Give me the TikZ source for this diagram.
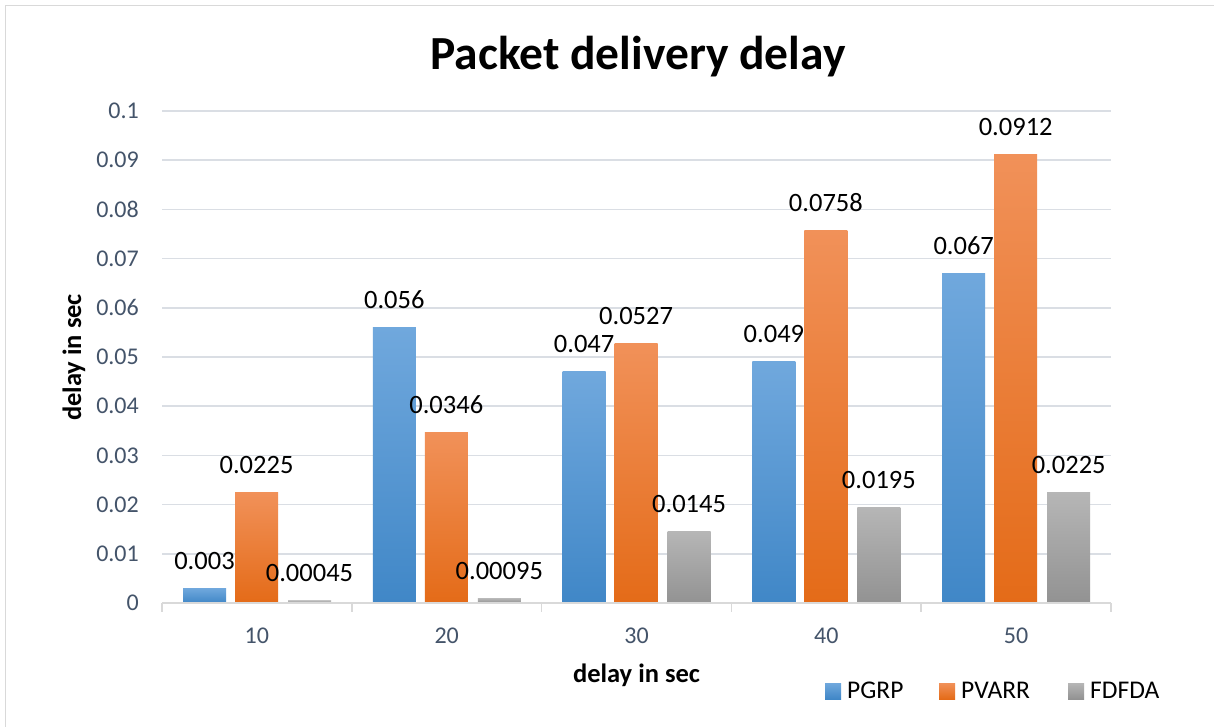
\documentclass[tikz,border=0pt]{standalone}
\usepackage{fontspec}
\setmainfont{Carlito}
\definecolor{gridc}{RGB}{218,222,228}
\definecolor{framec}{RGB}{217,217,217}
\definecolor{tickc}{RGB}{68,84,106}
\definecolor{blueT}{RGB}{112,168,221}
\definecolor{blueB}{RGB}{64,135,199}
\definecolor{orT}{RGB}{241,145,89}
\definecolor{orB}{RGB}{228,107,24}
\definecolor{grT}{RGB}{182,182,182}
\definecolor{grB}{RGB}{146,146,146}
\tikzset{
  bluebar/.style={top color=blueT,bottom color=blueB,draw=none},
  orbar/.style={top color=orT,bottom color=orB,draw=none},
  graybar/.style={top color=grT,bottom color=grB,draw=none},
  gridline/.style={draw=gridc,line width=1.5pt},
  axisline/.style={draw=framec,line width=1.5pt},
  ticklab/.style={font=\fontsize{24}{28}\selectfont,text=tickc,inner sep=0pt},
  datalab/.style={font=\fontsize{26.5}{30}\selectfont,text=black,inner sep=0pt,anchor=base},
  axtitle/.style={font=\bfseries\fontsize{26.5}{30}\selectfont,text=black,inner sep=0pt},
  leglab/.style={font=\fontsize{25.5}{30}\selectfont,text=black,inner sep=0pt,anchor=base west},
}
\begin{document}
\begin{tikzpicture}[x=1pt,y=1pt]
\useasboundingbox (0,0) rectangle (1214,726);
\fill[white] (0,0) rectangle (1214,726);
% frame (runs off right and bottom)
\draw[framec,line width=1.5pt] (5.5,-20) -- (5.5,720.5) -- (1240,720.5);
% title
\node[font=\bfseries\fontsize{47.5}{55}\selectfont,inner sep=0pt,anchor=base] (title) at (638,656) {Packet delivery delay};
% gridlines and y tick labels
\foreach \k/\t in {1/0.01,2/0.02,3/0.03,4/0.04,5/0.05,6/0.06,7/0.07,8/0.08,9/0.09,10/0.1}{
  \pgfmathsetmacro\gy{123+49.2*\k}
  \coordinate (gl\k) at (162,\gy);
  \coordinate (gr\k) at (1111,\gy);
  \draw[gridline] (gl\k) -- (gr\k);
  \node[ticklab,anchor=east] (yt\k) at (139,\gy) {\t};
}
\node[ticklab,anchor=east] (yt0) at (139,123) {0};
% bars
\foreach \i/\a/\b/\c in {0/0.003/0.0225/0.00045,1/0.056/0.0346/0.00095,2/0.047/0.0527/0.0145,3/0.049/0.0758/0.0195,4/0.067/0.0912/0.0225}{
  \pgfmathsetmacro\L{162+\i*189.8}
  \pgfmathsetmacro\ya{123+4920*\a}
  \pgfmathsetmacro\yb{123+4920*\b}
  \pgfmathsetmacro\yc{123+4920*\c}
  \shade[bluebar] (\L+21,123) rectangle (\L+64,\ya);
  \shade[orbar] (\L+73,123) rectangle (\L+116,\yb);
  \shade[graybar] (\L+126,123) rectangle (\L+169,\yc);
  \node[datalab] (la\i) at (\L+42.5,\ya+19) {\a};
  \node[datalab] (lb\i) at (\L+94.5,\yb+19) {\b};
  \node[datalab] (lc\i) at (\L+147.5,\yc+19) {\c};
}
% x axis
\coordinate (ax0) at (162,123);
\coordinate (ax1) at (1111,123);
\draw[axisline] (ax0) -- (ax1);
\foreach \j in {0,...,5}{
  \pgfmathsetmacro\tx{162+\j*189.8}
  \coordinate (tk\j a) at (\tx,123);
  \coordinate (tk\j b) at (\tx,114);
  \draw[axisline] (tk\j a) -- (tk\j b);
}
\foreach \i/\t in {0/10,1/20,2/30,3/40,4/50}{
  \pgfmathsetmacro\cx{162+94.9+\i*189.8}
  \node[ticklab] (xt\i) at (\cx,90.5) {\t};
}
% axis titles
\node[axtitle,anchor=base] (xtitle) at (636.5,44) {delay in sec};
\node[axtitle,rotate=90] (ytitle) at (74,368.5) {delay in sec};
% legend
\shade[bluebar] (825,27) rectangle (841,43);
\node[leglab] (lg1) at (847,28) {PGRP};
\shade[orbar] (939,27) rectangle (955,43);
\node[leglab] (lg2) at (961,28) {PVARR};
\shade[graybar] (1068,27) rectangle (1084,43);
\node[leglab] (lg3) at (1090,28) {FDFDA};
\end{tikzpicture}
\end{document}
